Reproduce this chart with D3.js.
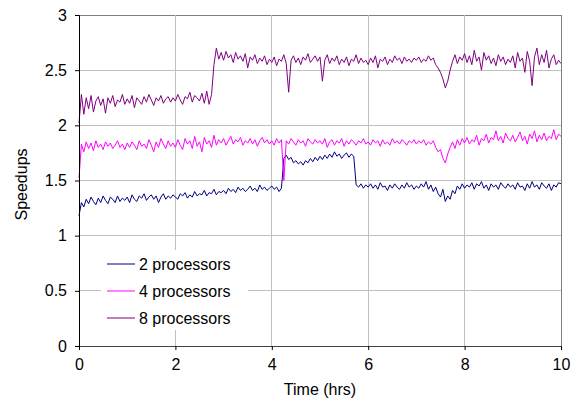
<!DOCTYPE html>
<html><head><meta charset="utf-8">
<script src="https://cdn.jsdelivr.net/npm/d3@7"></script>
<style>body{margin:0;background:#fff}svg{display:block;font-family:"Liberation Sans",Arial,sans-serif}</style>
</head><body><svg id="c" width="578" height="407"></svg>
<script>
const timeStep = 0.05; // hours between samples
const seriesNames = ["2 processors","4 processors","8 processors"];
const seriesColors = ["#000080","#ff00ff","#800080"];
const xTicks = [0,2,4,6,8,10];
const yTicks = [0,0.5,1,1.5,2,2.5,3];
const s2 = [
1.18,1.30,1.26,1.33,1.29,1.35,1.31,1.28,1.34,1.30,1.36,1.32,1.29,1.35,1.33,1.30,1.36,1.31,1.34,1.32,
1.35,1.30,1.37,1.33,1.31,1.36,1.34,1.38,1.32,1.35,1.37,1.33,1.36,1.30,1.35,1.38,1.33,1.36,1.34,1.37,
1.35,1.33,1.38,1.36,1.39,1.34,1.37,1.35,1.40,1.36,1.38,1.37,1.41,1.36,1.39,1.38,1.42,1.37,1.40,1.39,
1.41,1.38,1.43,1.40,1.42,1.39,1.44,1.41,1.43,1.40,1.42,1.45,1.41,1.43,1.40,1.46,1.42,1.44,1.41,1.43,
1.45,1.42,1.44,1.40,1.43,1.70,1.73,1.69,1.71,1.66,1.68,1.65,1.67,1.64,1.68,1.66,1.70,1.67,1.71,1.68,
1.72,1.69,1.73,1.70,1.74,1.71,1.76,1.72,1.74,1.70,1.73,1.75,1.71,1.74,1.72,1.46,1.44,1.47,1.43,1.46,
1.44,1.47,1.43,1.46,1.42,1.48,1.44,1.45,1.41,1.46,1.43,1.47,1.44,1.42,1.46,1.43,1.48,1.44,1.46,1.42,
1.45,1.43,1.47,1.44,1.49,1.42,1.46,1.40,1.44,1.38,1.35,1.42,1.31,1.36,1.33,1.41,1.38,1.45,1.42,1.47,
1.43,1.46,1.44,1.48,1.42,1.47,1.45,1.49,1.43,1.46,1.41,1.47,1.44,1.46,1.42,1.48,1.45,1.43,1.47,1.44,
1.46,1.42,1.48,1.44,1.45,1.41,1.47,1.43,1.49,1.44,1.46,1.42,1.48,1.45,1.43,1.47,1.41,1.46,1.44,1.48,1.47];
const s4 = [
1.52,1.83,1.76,1.85,1.79,1.84,1.77,1.86,1.80,1.83,1.78,1.85,1.81,1.84,1.79,1.82,1.86,1.80,1.83,1.78,
1.84,1.80,1.85,1.82,1.78,1.86,1.81,1.83,1.79,1.87,1.82,1.76,1.85,1.80,1.88,1.83,1.79,1.86,1.81,1.84,
1.80,1.87,1.82,1.78,1.88,1.83,1.86,1.79,1.90,1.81,1.85,1.76,1.89,1.83,1.86,1.80,1.91,1.82,1.87,1.84,
1.88,1.82,1.86,1.90,1.83,1.87,1.85,1.89,1.82,1.86,1.84,1.88,1.83,1.87,1.81,1.86,1.89,1.84,1.87,1.83,
1.86,1.82,1.88,1.84,1.87,1.50,1.86,1.83,1.88,1.85,1.82,1.87,1.84,1.86,1.81,1.88,1.85,1.83,1.87,1.84,
1.86,1.83,1.88,1.80,1.85,1.87,1.82,1.86,1.84,1.88,1.81,1.86,1.83,1.87,1.85,1.82,1.86,1.84,1.88,1.83,
1.85,1.82,1.87,1.84,1.86,1.81,1.87,1.83,1.85,1.82,1.88,1.84,1.86,1.83,1.87,1.85,1.82,1.86,1.84,1.87,
1.83,1.86,1.84,1.87,1.82,1.85,1.83,1.86,1.80,1.76,1.78,1.70,1.66,1.74,1.80,1.85,1.79,1.87,1.82,1.88,
1.84,1.89,1.83,1.87,1.85,1.91,1.82,1.88,1.86,1.92,1.84,1.89,1.87,1.95,1.86,1.90,1.84,1.93,1.88,1.86,
1.91,1.85,1.89,1.94,1.86,1.90,1.83,1.92,1.88,1.95,1.85,1.91,1.87,1.93,1.86,1.90,1.88,1.96,1.87,1.92,1.90];
const s8 = [
2.02,2.28,2.10,2.25,2.15,2.27,2.12,2.22,2.26,2.18,2.24,2.11,2.25,2.20,2.27,2.17,2.23,2.21,2.28,2.19,
2.24,2.20,2.27,2.16,2.25,2.22,2.19,2.26,2.21,2.28,2.23,2.18,2.25,2.22,2.27,2.20,2.24,2.26,2.21,2.25,
2.22,2.28,2.23,2.19,2.26,2.24,2.30,2.21,2.27,2.25,2.22,2.29,2.20,2.31,2.19,2.28,2.55,2.70,2.60,2.66,
2.59,2.67,2.61,2.64,2.57,2.66,2.60,2.63,2.58,2.65,2.52,2.62,2.59,2.64,2.56,2.61,2.58,2.63,2.55,2.60,
2.57,2.62,2.54,2.60,2.58,2.64,2.56,2.30,2.59,2.63,2.57,2.61,2.55,2.62,2.59,2.65,2.57,2.60,2.63,2.58,
2.62,2.40,2.59,2.64,2.56,2.61,2.58,2.63,2.55,2.60,2.57,2.62,2.54,2.60,2.58,2.64,2.56,2.61,2.57,2.59,
2.55,2.61,2.57,2.63,2.52,2.60,2.58,2.62,2.55,2.60,2.57,2.63,2.59,2.61,2.56,2.62,2.58,2.60,2.57,2.61,
2.59,2.62,2.57,2.60,2.58,2.63,2.59,2.61,2.55,2.52,2.48,2.42,2.34,2.40,2.50,2.58,2.64,2.56,2.62,2.59,
2.65,2.57,2.63,2.55,2.68,2.58,2.62,2.50,2.66,2.59,2.63,2.56,2.61,2.54,2.64,2.58,2.62,2.55,2.60,2.57,
2.63,2.52,2.66,2.58,2.61,2.48,2.67,2.58,2.36,2.62,2.70,2.55,2.64,2.57,2.68,2.52,2.60,2.64,2.55,2.59,2.56];
const allSeries = [s2, s4, s8];

const W = 578, H = 407;
const m = {l:79, r:17, t:15, b:61};
const svg = d3.select("#c");
const x = d3.scaleLinear().domain([0,10]).range([m.l, W - m.r]);
const y = d3.scaleLinear().domain([0,3]).range([H - m.b, m.t]);

// gridlines
svg.append("g").selectAll("line").data(yTicks.filter(v=>v>0)).join("line")
  .attr("x1", m.l).attr("x2", W - m.r).attr("y1", d=>y(d)).attr("y2", d=>y(d))
  .attr("stroke", d=> d===3 ? "#808080" : "#c0c0c0").attr("stroke-width",1).attr("shape-rendering","crispEdges");
svg.append("g").selectAll("line").data(xTicks.filter(v=>v>0)).join("line")
  .attr("y1", m.t).attr("y2", H - m.b).attr("x1", d=>x(d)).attr("x2", d=>x(d))
  .attr("stroke", d=> d===10 ? "#808080" : "#c0c0c0").attr("stroke-width",1).attr("shape-rendering","crispEdges");

// legend background (covers gridlines)
svg.append("rect").attr("x", 101).attr("y", 250).attr("width", 147).attr("height", 80).attr("fill", "#fff");

// lines
const line = d3.line().x((d,i)=>x(i*timeStep)).y(d=>y(d));
allSeries.forEach((s,k)=>{
  svg.append("path").datum(s).attr("d", line).attr("fill","none")
    .attr("stroke", seriesColors[k]).attr("stroke-width",1).attr("stroke-linejoin","round");
});

// axes
const yAxis = svg.append("g").attr("transform",`translate(${m.l},0)`)
  .call(d3.axisLeft(y).tickValues(yTicks).tickSize(4).tickPadding(8).tickFormat(d3.format("")));
const xAxis = svg.append("g").attr("transform",`translate(0,${H - m.b})`)
  .call(d3.axisBottom(x).tickValues(xTicks).tickSize(4).tickPadding(9).tickFormat(d3.format("")));
[yAxis, xAxis].forEach(g=>{
  g.selectAll("text").attr("font-size",16).attr("font-family","Liberation Sans, Arial, sans-serif").attr("fill","#000");
  g.select(".domain").attr("stroke","#000");
  g.selectAll(".tick line").attr("stroke","#000");
});
xAxis.select(".domain").attr("stroke","#404040");

// axis titles
svg.append("text").attr("x", (m.l + W - m.r)/2).attr("y", 395).attr("text-anchor","middle")
  .attr("font-size",16).text("Time (hrs)");
svg.append("text").attr("transform",`translate(27,${(m.t + H - m.b)/2 + 4}) rotate(-90)`).attr("text-anchor","middle")
  .attr("font-size",16).text("Speedups");

// legend
const lg = svg.append("g");
seriesNames.forEach((n,k)=>{
  const yy = 264 + k*27;
  lg.append("line").attr("x1",107).attr("x2",135).attr("y1",yy).attr("y2",yy)
    .attr("stroke", seriesColors[k]).attr("stroke-width",1);
  lg.append("text").attr("x",139).attr("y",yy+6).attr("font-size",16).text(n);
});
</script></body></html>
